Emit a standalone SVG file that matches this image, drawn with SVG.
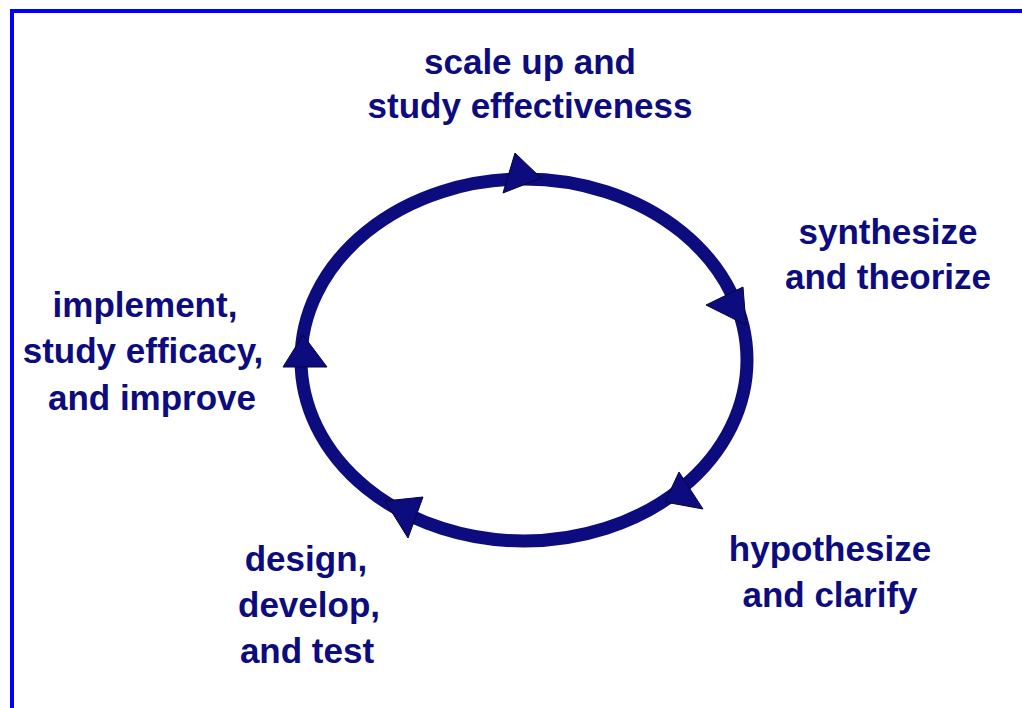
<svg xmlns="http://www.w3.org/2000/svg" width="1022" height="708" viewBox="0 0 1022 708">
<style>
.lbl{font-family:"Liberation Sans",Arial,sans-serif;font-weight:bold;font-size:35px;fill:#0c0c7e;text-anchor:middle}
.ring{fill:none;stroke:#0c0c7e;stroke-width:13}
.head{fill:#0c0c7e;stroke:#05053a;stroke-width:1;stroke-linejoin:round}
</style>
<rect x="0" y="0" width="1022" height="708" fill="#ffffff"/>
<rect x="12" y="11" width="1100" height="800" fill="none" stroke="#0000ff" stroke-width="4"/>
<g id="connectors">
<ellipse class="ring" cx="524" cy="360" rx="223" ry="181"/>
<polygon class="head" points="515,153 541,178 503,193"/>
<polygon class="head" points="706,305 743,287 746,325"/>
<polygon class="head" points="679,472 703,509 665,502"/>
<polygon class="head" points="385,501 423,497 408,538"/>
<polygon class="head" points="303,335 283,367 327,367"/>
</g>
<g id="scale-up">
<text class="lbl" x="530" y="74">scale up and</text>
<text class="lbl" x="530" y="118">study effectiveness</text>
</g>
<g id="synthesize">
<text class="lbl" x="888" y="244">synthesize</text>
<text class="lbl" x="888" y="289">and theorize</text>
</g>
<g id="hypothesize">
<text class="lbl" x="830" y="561">hypothesize</text>
<text class="lbl" x="830" y="607">and clarify</text>
</g>
<g id="design">
<text class="lbl" x="306" y="571">design,</text>
<text class="lbl" x="309" y="617">develop,</text>
<text class="lbl" x="307" y="663">and test</text>
</g>
<g id="implement">
<text class="lbl" x="145" y="317">implement,</text>
<text class="lbl" x="143" y="363">study efficacy,</text>
<text class="lbl" x="152" y="410">and improve</text>
</g>
</svg>
